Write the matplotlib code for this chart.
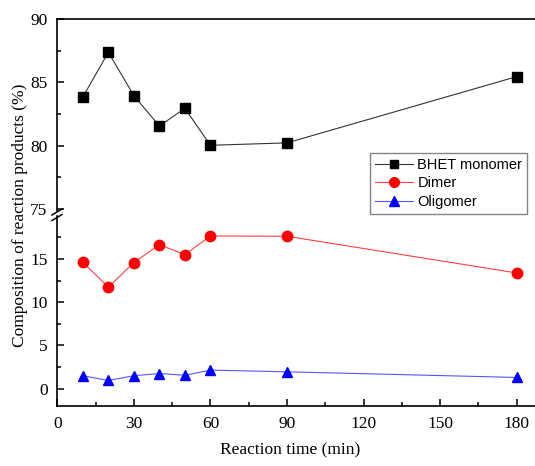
import matplotlib
matplotlib.use("Agg")
import matplotlib.pyplot as plt
from matplotlib.ticker import MultipleLocator
from matplotlib.lines import Line2D

time = [10, 20, 30, 40, 50, 60, 90, 180]
bhet = [83.84, 87.37, 83.95, 81.55, 82.95, 80.03, 80.22, 85.45]
dimer = [14.62, 11.73, 14.58, 16.65, 15.5, 17.65, 17.62, 13.38]
oligomer = [1.5, 0.95, 1.5, 1.75, 1.55, 2.15, 1.95, 1.3]
xticks = [0, 30, 60, 90, 120, 150, 180]

W, H = 535, 466
fig = plt.figure(figsize=(W / 100, H / 100), dpi=100)

serif = "Liberation Serif"
left = 57.3 / W
width = 1.0 - left

def fy(p):
    return (H - p) / H

ax_up = fig.add_axes([left, fy(211), width, fy(19) - fy(211)])
ax_lo = fig.add_axes([left, fy(406), width, fy(216) - fy(406)])

xmax = (535 - 57.3) / 2.552

lw = 0.8
ax_up.plot(time, bhet, color="#333333", lw=lw, marker="s", ms=6.5,
           mfc="black", mec="black", label="BHET monomer")
ax_lo.plot(time, dimer, color="#ff4040", lw=lw, marker="o", ms=7.5,
           mfc="#ff0000", mec="#ff0000", label="Dimer")
ax_lo.plot(time, oligomer, color="#5555ff", lw=lw, marker="^", ms=7.5,
           mfc="#0000ff", mec="#0000ff", label="Oligomer")

ax_up.set_ylim(75 - 2 / 12.667, 90)
ax_lo.set_ylim(-2, (389 - 216) / 8.667)
for ax in (ax_up, ax_lo):
    ax.set_xlim(0, xmax)
    ax.spines["right"].set_visible(False)
    for s in ax.spines.values():
        s.set_linewidth(1.2)
    ax.tick_params(which="both", direction="in", width=1.1)
    ax.tick_params(which="major", length=5)
    ax.tick_params(which="minor", length=3)
    ax.tick_params(axis="y", which="major", pad=7)
    ax.tick_params(axis="x", which="major", pad=7)

ax_up.spines["bottom"].set_visible(False)
ax_up.tick_params(axis="x", which="both", bottom=False, labelbottom=False)
ax_up.set_yticks([75, 80, 85, 90])
ax_up.yaxis.set_minor_locator(MultipleLocator(2.5))

ax_lo.spines["top"].set_visible(False)
ax_lo.set_yticks([0, 5, 10, 15])
ax_lo.yaxis.set_minor_locator(MultipleLocator(2.5))
ax_lo.set_xticks(xticks)
ax_lo.set_xticklabels([str(v) for v in xticks])
ax_lo.xaxis.set_minor_locator(MultipleLocator(15))

for ax in (ax_up, ax_lo):
    for lab in ax.get_yticklabels() + ax.get_xticklabels():
        lab.set_fontfamily(serif)
        lab.set_fontsize(12.5)

# break marks
for dy in (0, 5.5):
    fig.add_artist(Line2D([52 / W, 62 / W], [fy(215 + dy), fy(209 + dy)],
                          color="black", lw=1.1, transform=fig.transFigure))

handles = [
    Line2D([], [], color="#333333", lw=lw, marker="s", ms=6, mfc="black", mec="black"),
    Line2D([], [], color="#ff4040", lw=lw, marker="o", ms=7, mfc="#ff0000", mec="#ff0000"),
    Line2D([], [], color="#5555ff", lw=lw, marker="^", ms=7, mfc="#0000ff", mec="#0000ff"),
]
leg = fig.legend(handles, ["BHET monomer", "Dimer", "Oligomer"],
                 loc="upper left", bbox_to_anchor=(370 / W, fy(153)),
                 bbox_transform=fig.transFigure,
                 prop={"family": "Liberation Sans", "size": 10.5},
                 frameon=True, fancybox=False, borderpad=0.35,
                 labelspacing=0.3, handlelength=2.6, handletextpad=0.3,
                 borderaxespad=0)
leg.get_frame().set_edgecolor("#666666")
leg.get_frame().set_linewidth(1.0)

fig.text(20 / W, fy(215), "Composition of reaction products (%)",
         rotation=90, ha="center", va="center", family=serif, fontsize=12.5)
fig.text(290 / W, fy(450), "Reaction time (min)", ha="center", va="center",
         family=serif, fontsize=12.5)

fig.savefig("out.png", dpi=100)
